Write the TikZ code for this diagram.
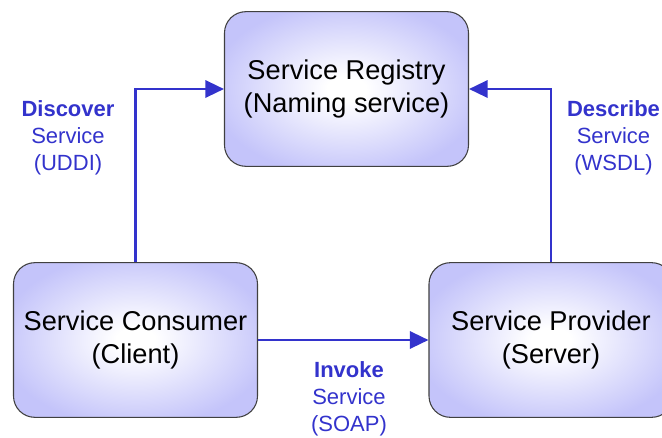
\documentclass[tikz,border=0pt]{standalone}
\usepackage{fontspec}
\setmainfont{Liberation Sans}
\usetikzlibrary{arrows.meta}
\definecolor{soablue}{RGB}{51,51,204}
\definecolor{boxlav}{RGB}{196,196,250}
\pgfdeclareradialshading{svcglow}{\pgfpoint{0bp}{0bp}}{%
    color(0bp)=(white); color(4bp)=(white); color(28bp)=(boxlav);
    color(50bp)=(boxlav)}
\tikzset{
    svcbox/.style={draw=black!75, line width=0.8pt, rounded corners=16pt,
        shading=svcglow,
        minimum width=183pt, minimum height=116pt, inner sep=0pt,
        align=center, font=\fontsize{20.4}{24.75}\selectfont},
    flow/.style={draw=soablue, line width=1.8pt,
        -{Triangle[length=14pt,width=13pt]}},
    lbl/.style={text=soablue, align=center, inner sep=0pt,
        font=\fontsize{16.5}{20.3}\selectfont}
}
\begin{document}
\begin{tikzpicture}[x=0.75pt, y=-0.75pt]
    \useasboundingbox (0,0) rectangle (662,437);
    \clip (0,0) rectangle (662,437);

    % Drei Rollen
    \node[svcbox] (registry) at (346.5,89) {Service Registry\\(Naming service)};
    \node[svcbox] (consumer) at (135.5,340) {Service Consumer\\(Client)};
    \node[svcbox] (provider) at (551,340) {Service Provider\\(Server)};

    % Verbindungen
    \draw[flow] (consumer.north) |- (registry.west);
    \draw[flow] (provider.north) |- (registry.east);
    \draw[flow] (consumer.east) -- (provider.west);

    % Beschriftungen
    \node[lbl] (discover) at (68,137.5) {\textbf{Discover}\\Service\\(UDDI)};
    \node[lbl] (describe) at (613.5,137.5) {\textbf{Describe}\\Service\\(WSDL)};
    \node[lbl] (invoke) at (349,398.5) {\textbf{Invoke}\\Service\\(SOAP)};
\end{tikzpicture}
\end{document}
